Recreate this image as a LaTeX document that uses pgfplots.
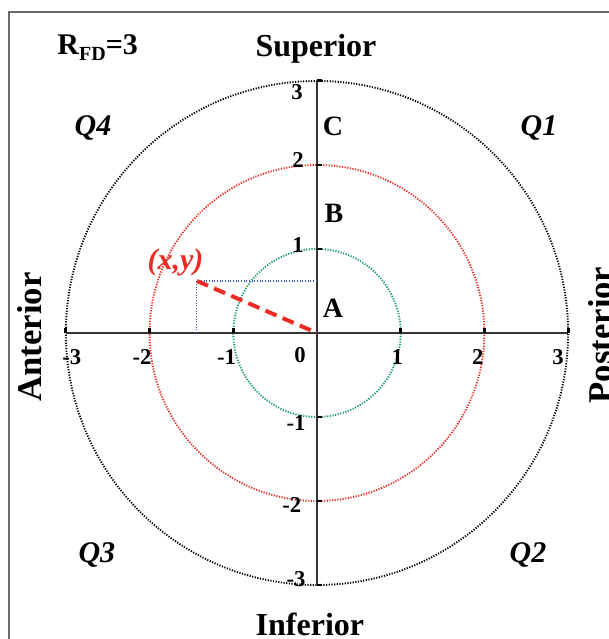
\documentclass[border=0pt]{standalone}
\usepackage{fontspec}
\setmainfont{Liberation Serif}
\usepackage{pgfplots}
\pgfplotsset{compat=1.18}

\definecolor{circred}{HTML}{EE2A24}
\definecolor{circgreen}{HTML}{16997A}
\definecolor{guideblue}{HTML}{3355C0}
\definecolor{framegray}{HTML}{6A6A6A}

\begin{document}
\begin{tikzpicture}
\begin{axis}[
    width=456pt, height=479.25pt, scale only axis,
    xmin=-3.787, xmax=3.477,
    ymin=-3.643, ymax=3.964,
    hide axis, clip=false,
]
% frame of the figure panel
\draw[framegray, line width=1.2pt] (axis cs:-3.68,-5) -- (axis cs:-3.68,3.821) -- (axis cs:5,3.821);

% zone circles, radius 1, 2, 3
\draw[circgreen, line width=1.4pt, dash pattern=on 0.9pt off 1.1pt] (axis cs:0,0) ellipse [x radius=1, y radius=1];
\draw[circred, line width=1.4pt, dash pattern=on 0.9pt off 1.1pt] (axis cs:0,0) ellipse [x radius=2, y radius=2];
\draw[black, line width=1.4pt, dash pattern=on 0.9pt off 1.1pt] (axis cs:0,0) ellipse [x radius=3, y radius=3];

% axes through the origin
\addplot[black!80, line width=1.5pt] coordinates {(-3,0) (3,0)};
\addplot[black!80, line width=1.5pt] coordinates {(0,-3) (0,3)};

% tick marks
\addplot[only marks, mark=|, mark size=1.9pt, mark options={yshift=1.9pt, line width=2.2pt, black}]
    coordinates {(-3,0) (-2,0) (-1,0) (1,0) (2,0) (3,0)};
\addplot[only marks, mark=-, mark size=1.9pt, mark options={xshift=1.9pt, line width=2.2pt, black}]
    coordinates {(0,-3) (0,-2) (0,-1) (0,1) (0,2) (0,3)};

% projection of the point (x,y)
\addplot[guideblue, line width=0.8pt, dash pattern=on 0.8pt off 1.2pt]
    coordinates {(-1.434,0) (-1.434,0.619) (0,0.619)};
\addplot[circred, line width=3pt, dash pattern=on 9pt off 5pt]
    coordinates {(-1.434,0.619) (0,0)};

% tick labels
\begin{scope}[font=\fontsize{17}{17}\selectfont\bfseries]
\node at (axis cs:-2.93,-0.286) {-3};
\node at (axis cs:-2.09,-0.286) {-2};
\node at (axis cs:-1.08,-0.286) {-1};
\node at (axis cs:-0.203,-0.262) {0};
\node at (axis cs:0.96,-0.286) {1};
\node at (axis cs:1.92,-0.286) {2};
\node at (axis cs:2.88,-0.286) {3};
\node at (axis cs:-0.239,2.869) {3};
\node at (axis cs:-0.227,2.06) {2};
\node at (axis cs:-0.227,1.048) {1};
\node at (axis cs:-0.25,-1.07) {-1};
\node at (axis cs:-0.3,-2.05) {-2};
\node at (axis cs:-0.25,-2.93) {-3};
\end{scope}

% zone letters
\begin{scope}[font=\fontsize{21}{21}\selectfont\bfseries]
\node at (axis cs:0.191,0.298) {A};
\node at (axis cs:0.203,1.429) {B};
\node at (axis cs:0.191,2.464) {C};
\end{scope}

\node[circred, font=\fontsize{22.5}{22.5}\selectfont\bfseries\itshape] at (axis cs:-1.69,0.845) {(x,y)};

% quadrants
\begin{scope}[font=\fontsize{22.5}{22.5}\selectfont\bfseries\itshape]
\node[anchor=base] at (axis cs:-2.676,2.345) {Q4};
\node[anchor=base] at (axis cs:2.652,2.345) {Q1};
\node[anchor=base] at (axis cs:-2.63,-2.738) {Q3};
\node[anchor=base] at (axis cs:2.521,-2.738) {Q2};
\end{scope}

% directions
\node[anchor=base, font=\fontsize{22.5}{22.5}\selectfont\bfseries] at (axis cs:-2.62,3.31)
    {R\raisebox{-0.42ex}{\fontsize{15}{15}\selectfont FD}=3};
\node[anchor=base, font=\fontsize{24}{24}\selectfont\bfseries] at (axis cs:-0.012,3.286) {Superior};
\node[anchor=base, font=\fontsize{24}{24}\selectfont\bfseries] at (axis cs:-0.084,-3.607) {Inferior};
\node[anchor=base, rotate=90, font=\fontsize{26}{26}\selectfont\bfseries] at (axis cs:-3.286,-0.048) {Anterior};
\node[anchor=base, rotate=90, font=\fontsize{26}{26}\selectfont\bfseries] at (axis cs:3.536,-0.024) {Posterior};

\coordinate (bl) at (rel axis cs:0,0);
\coordinate (tr) at (rel axis cs:1,1);
\end{axis}
\pgfresetboundingbox
\path (bl) rectangle (tr);
\end{tikzpicture}
\end{document}
